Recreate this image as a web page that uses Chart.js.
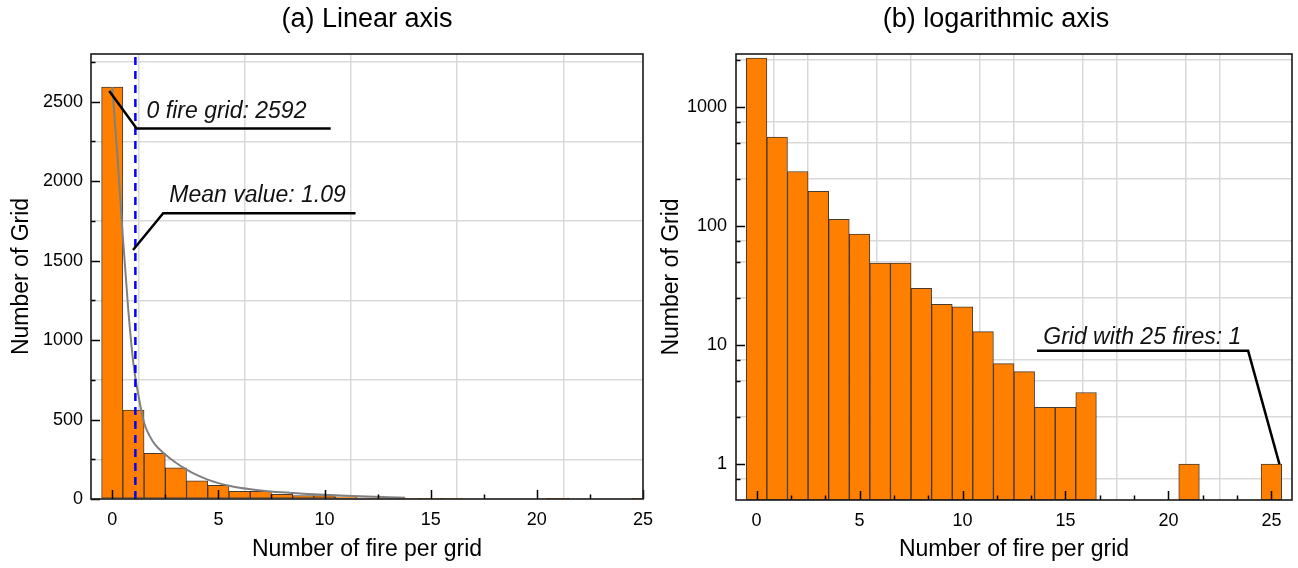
<!DOCTYPE html>
<html><head><meta charset="utf-8">
<script src="https://cdn.jsdelivr.net/npm/chart.js@4.4.1/dist/chart.umd.min.js"></script>
<style>
html,body{margin:0;padding:0;background:#fff;width:1298px;height:568px;overflow:hidden;}
#wrapA{position:absolute;left:0;top:0;width:660px;height:568px;}
#wrapB{position:absolute;left:650px;top:0;width:648px;height:568px;}
canvas{display:block;}
</style></head><body>
<div id="wrapA"><canvas id="chartA" width="660" height="568"></canvas></div>
<div id="wrapB"><canvas id="chartB" width="648" height="568"></canvas></div>
<script>
// ---------------- DATA ----------------
const fires = [0,1,2,3,4,5,6,7,8,9,10,11,12,13,14,15,16,17,18,19,20,21,22,23,24,25];
const grids = [2592,560,288,196,114,86,49,49,30,22,21,13,7,6,3,3,4,0,0,0,0,1,0,0,0,1];
const meanValue = 1.09;
// gray fitted curve
const fitX = [0,0.25,0.5,0.75,1.0,1.25,1.5,1.75,2.0,2.5,3.0,3.5,4.0,4.5,5.0,5.5,6.0,7.0,8.0,9.0,10.0,11.0,12.0,13.0,13.8];
const fitY = [2592,2150,1650,1200,850,640,480,400,345,280,228,185,150,122,100,84,71,54,42,33,26,20,15,11,8];
// axis ticks
const xMajorA = [0,5,10,15,20,25];
const xMinorA = [2.5,7.5,12.5,17.5,22.5];
const yMajorA = [0,500,1000,1500,2000,2500];
const yMinorA = [250,750,1250,1750,2250,2750];
const xMajorB = [0,5,10,15,20,25];
const xMinorB = [1.667,3.333,6.667,8.333,11.667,13.333,16.667,18.333,21.667,23.333];
const yMajorB = [1,10,100,1000];
const yMinorB = [0.75,2.5,5,7.5,25,50,75,250,500,750,2500];
// texts
const titleA = '(a) Linear axis';
const titleB = '(b) logarithmic axis';
const xTitle = 'Number of fire per grid';
const yTitle = 'Number of Grid';
// annotations (data coordinates)
const noteZeroText = '0 fire grid: 2592';
const noteZeroAt = [1.62, 2396];
const noteZeroLineX = [-0.14, 1.15, 10.29];
const noteZeroLineY = [2567, 2332, 2332];
const noteMeanText = 'Mean value: 1.09';
const noteMeanAt = [2.69, 1871];
const noteMeanLineX = [0.98, 2.40, 11.46];
const noteMeanLineY = [1567, 1798, 1798];
const noteMaxText = 'Grid with 25 fires: 1';
const noteMaxAt = [13.92, 10.26];
const noteMaxLineX = [13.62, 23.87, 25.39];
const noteMaxLineY = [8.96, 8.96, 1.0];

// ---------------- STYLE ----------------
const FONT = '"Liberation Sans", Arial, Helvetica, sans-serif';
Chart.defaults.font.family = FONT;
Chart.defaults.color = '#000';
const GRID = '#d9d9d9';
const BAR_FILL = '#ff8000';
const BAR_EDGE = 'rgba(40,25,10,0.85)';

const pts = (xs, ys) => xs.map((x, i) => ({x: x, y: ys[i]}));
const barData = grids.map((g, i) => ({x: fires[i], y: g > 0 ? g : null}));

const framePlugin = {
  id: 'frameTicks',
  afterDatasetsDraw(chart, args, o) {
    const {ctx, chartArea: a, scales: {x, y}} = chart;
    ctx.save();
    ctx.strokeStyle = '#000';
    ctx.lineWidth = 1.5;
    ctx.beginPath();
    const tk = (vals, len, axis) => {
      for (const v of vals) {
        if (axis === 'x') {
          const px = Math.round(x.getPixelForValue(v)) + 0.5;
          ctx.moveTo(px, a.bottom); ctx.lineTo(px, a.bottom - len);
        } else {
          const py = Math.round(y.getPixelForValue(v)) + 0.5;
          ctx.moveTo(a.left, py); ctx.lineTo(a.left + len, py);
        }
      }
    };
    tk(o.xMajor, 9, 'x'); tk(o.xMinor, 4.5, 'x');
    tk(o.yMajor, 9, 'y'); tk(o.yMinor, 4.5, 'y');
    ctx.stroke();
    ctx.lineWidth = 1.6;
    ctx.strokeStyle = '#1a1a1a';
    ctx.strokeRect(a.left, a.top, a.right - a.left, a.bottom - a.top);
    // notes
    ctx.fillStyle = '#111';
    ctx.font = 'italic 23px ' + FONT;
    ctx.textBaseline = 'alphabetic';
    ctx.textAlign = 'left';
    for (const n of o.notes) {
      ctx.fillText(n.text, x.getPixelForValue(n.at[0]), y.getPixelForValue(n.at[1]));
    }
    // panel title
    ctx.font = '27px ' + FONT;
    ctx.fillStyle = '#000';
    ctx.textAlign = 'center';
    ctx.textBaseline = 'middle';
    ctx.fillText(o.title, o.titleX, o.titleY);
    ctx.restore();
  }
};

function baseX(min, max, majors, minors, h) {
  return {
    type: 'linear', min: min, max: max, offset: false,
    grid: {drawTicks: false, lineWidth: 1.5,
      color: c => (c.tick && minors.includes(c.tick.value)) ? GRID : 'rgba(0,0,0,0)'},
    border: {display: false},
    ticks: {autoSkip: false, maxRotation: 0, minRotation: 0, padding: 10, color: '#000',
      font: {size: 18}, callback: v => majors.includes(v) ? String(v) : ''},
    afterBuildTicks: s => { s.ticks = majors.concat(minors).sort((a, b) => a - b).map(v => ({value: v})); },
    afterFit: s => { s.height = h; s.paddingLeft = 0; s.paddingRight = 0; },
    title: {display: true, text: xTitle, color: '#000', font: {size: 23}, padding: {top: 0, bottom: 5}}
  };
}
function baseY(type, min, max, majors, minors, w, pad) {
  return {
    type: type, min: min, max: max,
    grid: {drawTicks: false, lineWidth: 1.5,
      color: c => (c.tick && minors.includes(c.tick.value)) ? GRID : 'rgba(0,0,0,0)'},
    border: {display: false},
    ticks: {autoSkip: false, padding: pad, color: '#000', font: {size: 18},
      callback: v => majors.includes(v) ? String(v) : ''},
    afterBuildTicks: s => { s.ticks = majors.concat(minors).sort((a, b) => a - b).map(v => ({value: v})); },
    afterFit: s => { s.width = w; s.paddingTop = 0; s.paddingBottom = 0; },
    title: {display: true, text: yTitle, color: '#000', font: {size: 23}, padding: {top: 8, bottom: 0}}
  };
}

const barSet = {
  type: 'bar', data: barData, order: 10,
  backgroundColor: BAR_FILL, borderColor: BAR_EDGE, borderWidth: 1, borderSkipped: false,
  barPercentage: 1.0, categoryPercentage: 1.0
};
const leader = (xs, ys) => ({
  type: 'line', data: pts(xs, ys), order: 1, borderColor: '#000', borderWidth: 2.5,
  pointRadius: 0, fill: false, tension: 0
});

new Chart(document.getElementById('chartA'), {
  type: 'bar',
  data: {datasets: [
    barSet,
    {type: 'line', data: pts(fitX, fitY), order: 3, borderColor: '#808080', borderWidth: 2,
      pointRadius: 0, fill: false, cubicInterpolationMode: 'monotone'},
    {type: 'line', data: pts([meanValue, meanValue], [0, 2800]), order: 2, borderColor: '#0000ff',
      borderWidth: 2.5, borderDash: [8, 6], pointRadius: 0, fill: false},
    leader(noteZeroLineX, noteZeroLineY),
    leader(noteMeanLineX, noteMeanLineY)
  ]},
  options: {
    responsive: false, animation: false, events: [],
    layout: {padding: {left: 0, right: 17, top: 54, bottom: 0}},
    plugins: {legend: {display: false}, tooltip: {enabled: false},
      frameTicks: {xMajor: xMajorA, xMinor: xMinorA, yMajor: yMajorA, yMinor: yMinorA,
        title: titleA, titleX: 367, titleY: 20,
        notes: [{text: noteZeroText, at: noteZeroAt}, {text: noteMeanText, at: noteMeanAt}]}},
    scales: {
      x: baseX(-1, 25, xMajorA, xMinorA, 69),
      y: baseY('linear', 0, 2800, yMajorA, yMinorA, 91, 8)
    }
  },
  plugins: [framePlugin]
});

new Chart(document.getElementById('chartB'), {
  type: 'bar',
  data: {datasets: [
    Object.assign({}, barSet, {data: grids.map((g, i) => ({x: fires[i], y: g > 0 ? g : null}))}),
    leader(noteMaxLineX, noteMaxLineY)
  ]},
  options: {
    responsive: false, animation: false, events: [],
    layout: {padding: {left: 0, right: 6, top: 54, bottom: 0}},
    plugins: {legend: {display: false}, tooltip: {enabled: false},
      frameTicks: {xMajor: xMajorB, xMinor: xMinorB, yMajor: yMajorB, yMinor: yMinorB,
        title: titleB, titleX: 346, titleY: 20,
        notes: [{text: noteMaxText, at: noteMaxAt}]}},
    scales: {
      x: baseX(-1, 26, xMajorB, xMinorB, 68),
      y: baseY('logarithmic', 0.5, 2800, yMajorB, yMinorB, 86, 9)
    }
  },
  plugins: [framePlugin]
});
</script>
</body></html>
